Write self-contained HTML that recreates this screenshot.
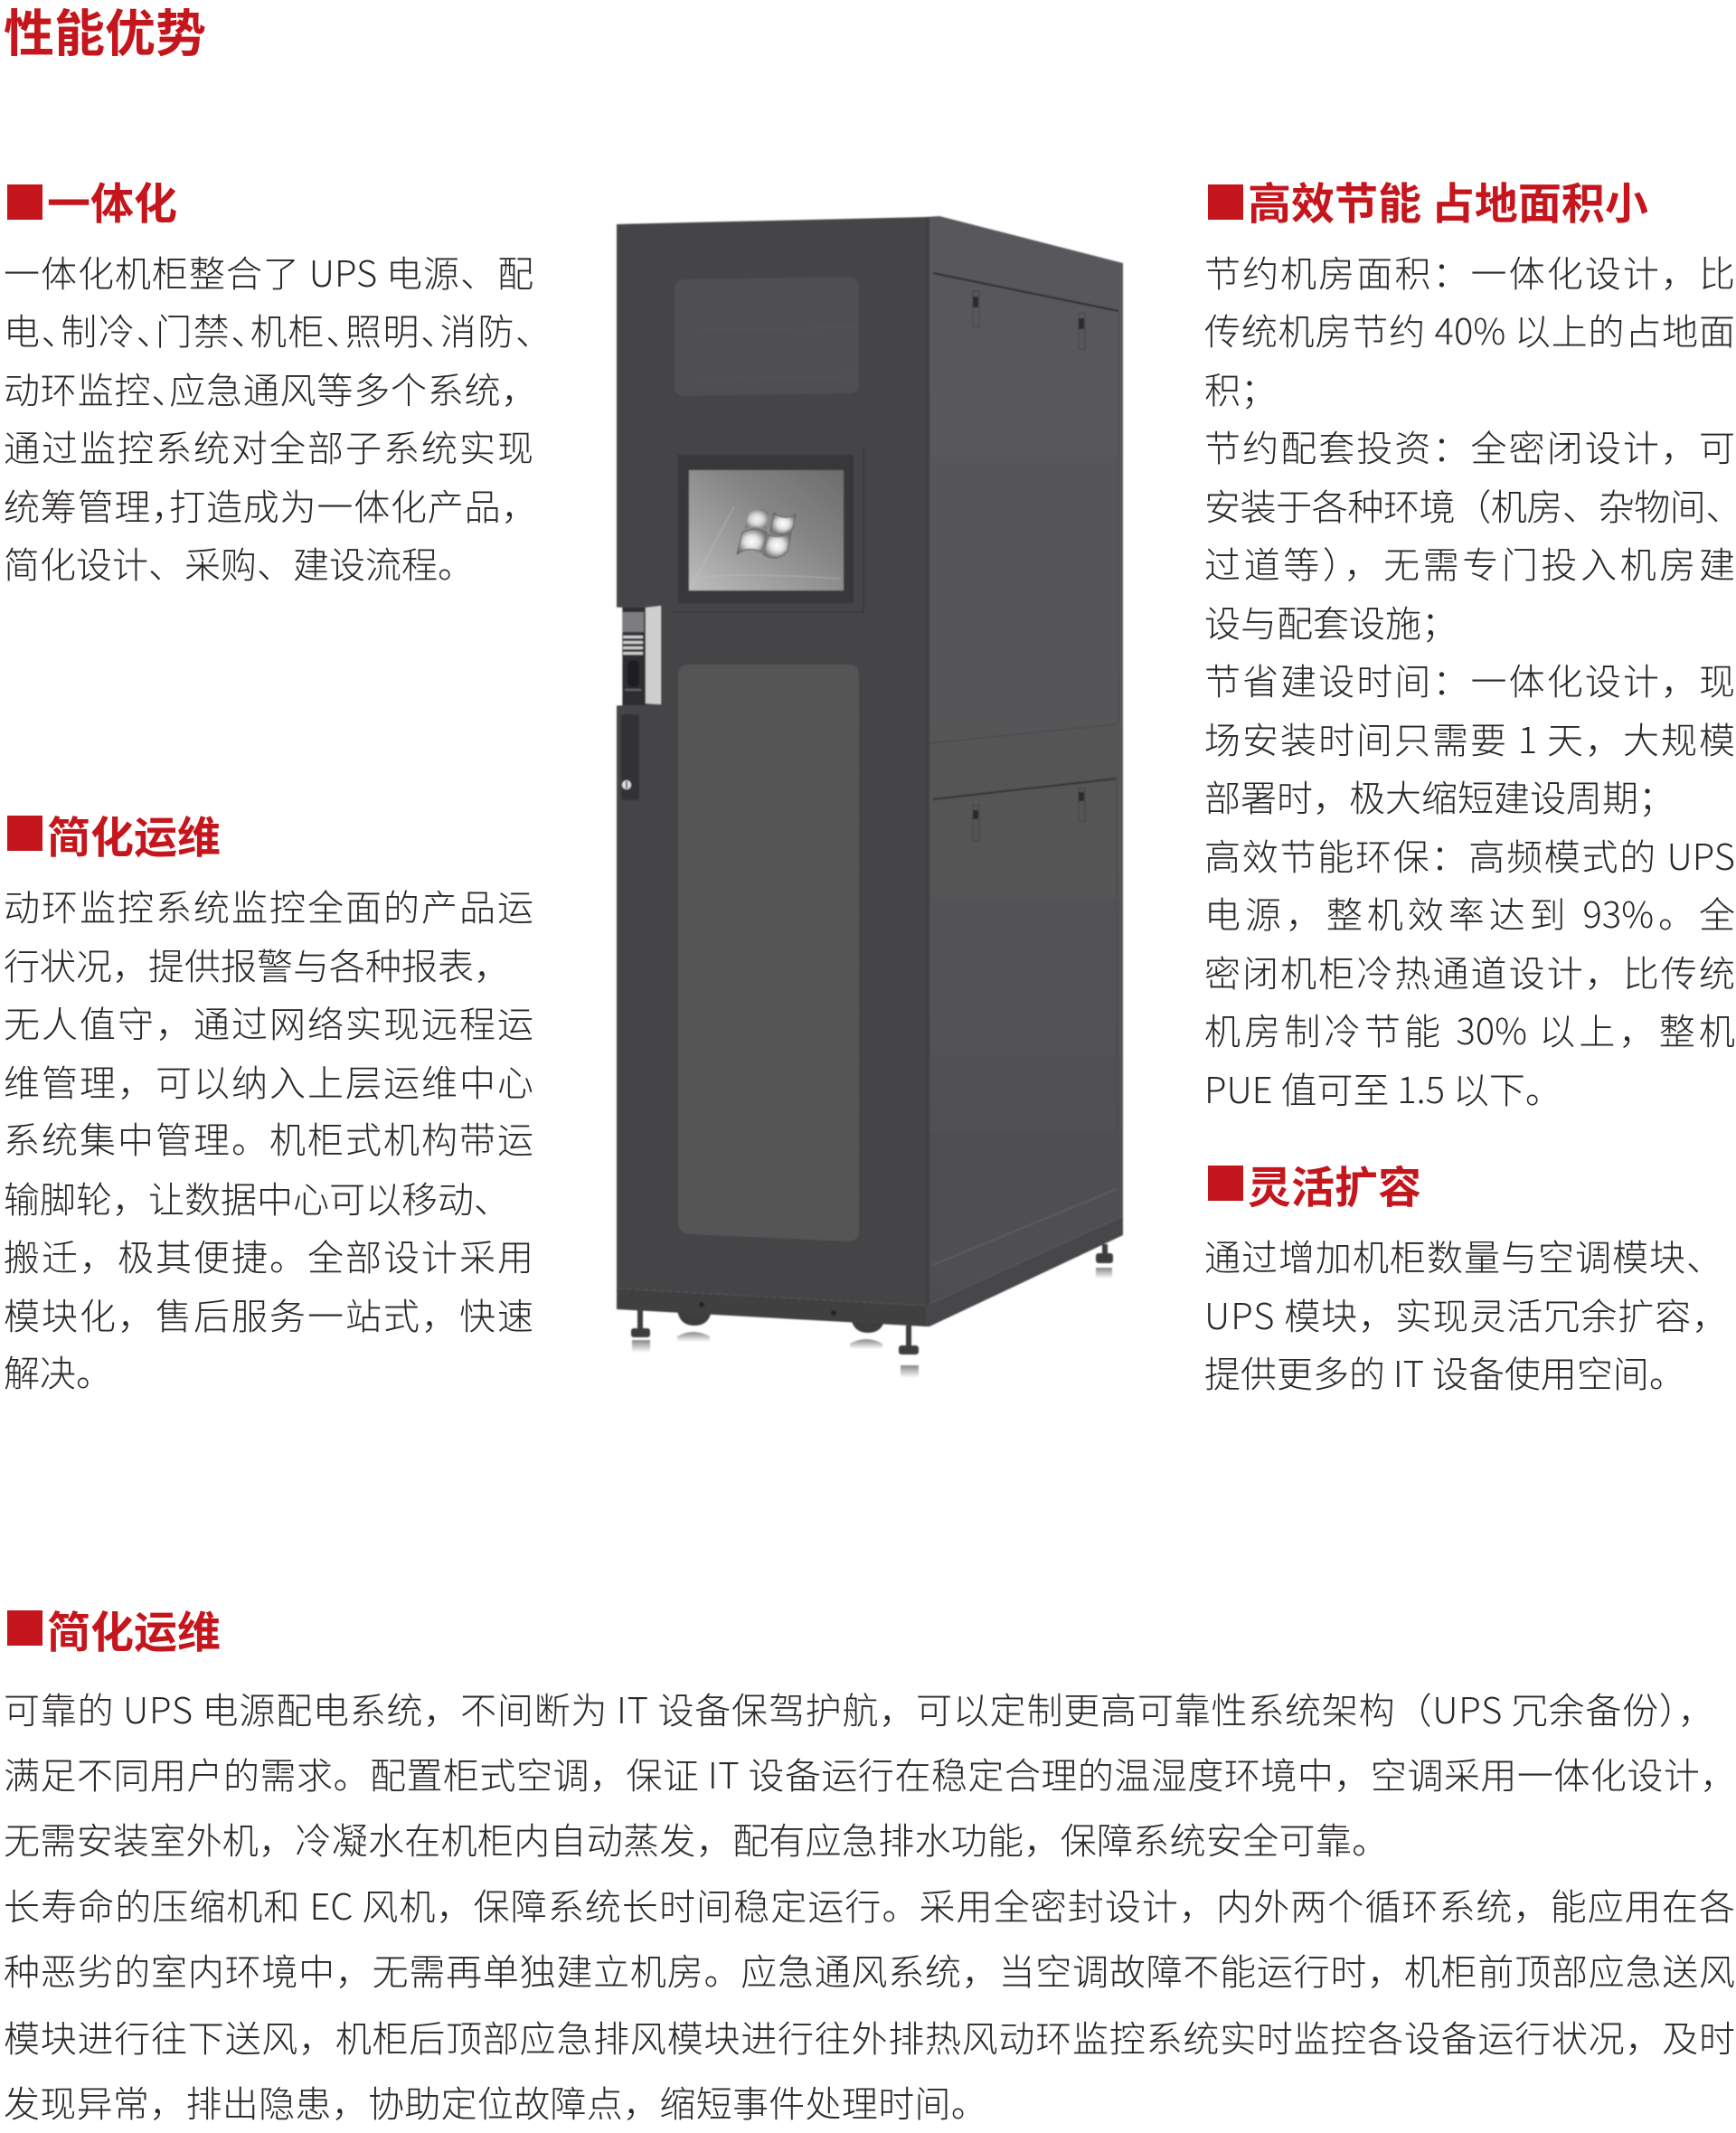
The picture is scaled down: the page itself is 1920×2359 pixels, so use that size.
<!DOCTYPE html>
<html lang="zh"><head><meta charset="utf-8"><title>性能优势</title>
<style>
html,body{margin:0;padding:0;background:#fff}
#p{position:relative;width:1920px;height:2359px;overflow:hidden;background:#fff;font-family:"Noto Sans CJK SC","Liberation Sans",sans-serif;color:#2b2728}
.t{position:absolute;white-space:nowrap;font-size:40px;line-height:60px;height:60px;font-weight:300}
.L{left:4px;width:586px}
.R{left:1332px;width:587px}
.B{left:4px;width:1915px}
.j{text-align:justify;text-align-last:justify}
.h{position:absolute;white-space:nowrap;font-size:48px;line-height:60px;height:60px;font-weight:700;color:#c4161c}
.h b{position:absolute;left:0;top:10px;width:39px;height:39px;background:#c4161c}
.h span{position:absolute;left:44px;top:0}
i{font-style:normal;letter-spacing:-.5em}
svg{position:absolute;left:0;top:0}
</style></head><body><div id="p">
<div class="h" style="left:4px;top:4px;font-size:56px">性能优势</div>

<div class="h" style="left:8px;top:194px"><b></b><span style="top:-3px">一体化</span></div>
<div class="t L j" style="top:270px">一体化机柜整合了 UPS 电源、配</div>
<div class="t L j" style="top:334px">电<i>、</i>制冷<i>、</i>门禁<i>、</i>机柜<i>、</i>照明<i>、</i>消防<i>、</i></div>
<div class="t L" style="top:399px;letter-spacing:.8px">动环监控<i>、</i>应急通风等多个系统&#xFF0C;</div>
<div class="t L j" style="top:463px">通过监控系统对全部子系统实现</div>
<div class="t L" style="top:528px;letter-spacing:.8px">统筹管理<i>&#xFF0C;</i>打造成为一体化产品&#xFF0C;</div>
<div class="t L" style="top:592px">简化设计、采购、建设流程。</div>

<div class="h" style="left:8px;top:892px"><b></b><span>简化运维</span></div>
<div class="t L j" style="top:971px">动环监控系统监控全面的产品运</div>
<div class="t L" style="top:1036px">行状况&#xFF0C;提供报警与各种报表&#xFF0C;</div>
<div class="t L j" style="top:1100px">无人值守&#xFF0C;通过网络实现远程运</div>
<div class="t L j" style="top:1165px">维管理&#xFF0C;可以纳入上层运维中心</div>
<div class="t L j" style="top:1228px">系统集中管理。机柜式机构带运</div>
<div class="t L" style="top:1294px">输脚轮&#xFF0C;让数据中心可以移动、</div>
<div class="t L j" style="top:1358px">搬迁&#xFF0C;极其便捷。全部设计采用</div>
<div class="t L j" style="top:1423px">模块化&#xFF0C;售后服务一站式&#xFF0C;快速</div>
<div class="t L" style="top:1486px">解决。</div>

<div class="h" style="left:1336px;top:194px"><b></b><span style="top:-3px">高效节能 占地面积小</span></div>
<div class="t R j" style="top:270px">节约机房面积&#xFF1A;一体化设计&#xFF0C;比</div>
<div class="t R j" style="top:334px">传统机房节约 40% 以上的占地面</div>
<div class="t R" style="top:399px">积&#xFF1B;</div>
<div class="t R j" style="top:463px">节约配套投资&#xFF1A;全密闭设计&#xFF0C;可</div>
<div class="t R" style="top:528px;letter-spacing:-.4px">安装于各种环境&#xFF08;机房、杂物间<i>、</i></div>
<div class="t R j" style="top:592px">过道等&#xFF09;&#xFF0C;无需专门投入机房建</div>
<div class="t R" style="top:657px">设与配套设施&#xFF1B;</div>
<div class="t R j" style="top:721px">节省建设时间&#xFF1A;一体化设计&#xFF0C;现</div>
<div class="t R j" style="top:786px">场安装时间只需要 1 天&#xFF0C;大规模</div>
<div class="t R" style="top:850px">部署时&#xFF0C;极大缩短建设周期&#xFF1B;</div>
<div class="t R j" style="top:915px">高效节能环保&#xFF1A;高频模式的 UPS</div>
<div class="t R j" style="top:979px">电源&#xFF0C;整机效率达到 93%。全</div>
<div class="t R j" style="top:1044px">密闭机柜冷热通道设计&#xFF0C;比传统</div>
<div class="t R j" style="top:1108px">机房制冷节能 30% 以上&#xFF0C;整机</div>
<div class="t R" style="top:1173px">PUE 值可至 1.5 以下。</div>

<div class="h" style="left:1336px;top:1279px"><b></b><span>灵活扩容</span></div>
<div class="t R" style="top:1358px;letter-spacing:1px">通过增加机柜数量与空调模块、</div>
<div class="t R" style="top:1423px;letter-spacing:1px">UPS 模块&#xFF0C;实现灵活冗余扩容&#xFF0C;</div>
<div class="t R" style="top:1487px">提供更多的 IT 设备使用空间。</div>

<div class="h" style="left:8px;top:1771px"><b></b><span>简化运维</span></div>
<div class="t B" style="top:1859px;letter-spacing:.8px">可靠的 UPS 电源配电系统&#xFF0C;不间断为 IT 设备保驾护航&#xFF0C;可以定制更高可靠性系统架构&#xFF08;UPS 冗余备份&#xFF09;&#xFF0C;</div>
<div class="t B" style="top:1931px;letter-spacing:.5px">满足不同用户的需求。配置柜式空调&#xFF0C;保证 IT 设备运行在稳定合理的温湿度环境中&#xFF0C;空调采用一体化设计&#xFF0C;</div>
<div class="t B" style="top:2003px;letter-spacing:.3px">无需安装室外机&#xFF0C;冷凝水在机柜内自动蒸发&#xFF0C;配有应急排水功能&#xFF0C;保障系统安全可靠。</div>
<div class="t B j" style="top:2076px">长寿命的压缩机和 EC 风机&#xFF0C;保障系统长时间稳定运行。采用全密封设计&#xFF0C;内外两个循环系统&#xFF0C;能应用在各</div>
<div class="t B j" style="top:2148px">种恶劣的室内环境中&#xFF0C;无需再单独建立机房。应急通风系统&#xFF0C;当空调故障不能运行时&#xFF0C;机柜前顶部应急送风</div>
<div class="t B j" style="top:2222px">模块进行往下送风&#xFF0C;机柜后顶部应急排风模块进行往外排热风动环监控系统实时监控各设备运行状况&#xFF0C;及时</div>
<div class="t B" style="top:2294px;letter-spacing:.3px">发现异常&#xFF0C;排出隐患&#xFF0C;协助定位故障点&#xFF0C;缩短事件处理时间。</div>

<svg width="1920" height="2359" viewBox="0 0 1920 2359" xmlns="http://www.w3.org/2000/svg">
<defs>
<linearGradient id="scr" x1="0" y1="1" x2="1" y2="0"><stop offset="0" stop-color="#bdbdbd"/><stop offset=".3" stop-color="#a0a0a0"/><stop offset=".6" stop-color="#858585"/><stop offset="1" stop-color="#6c6c6c"/></linearGradient>
<radialGradient id="glow"><stop offset="0" stop-color="#fff"/><stop offset=".5" stop-color="#e0e0e0"/><stop offset="1" stop-color="#7a7a7a"/></radialGradient>
<linearGradient id="ref" x1="0" y1="0" x2="0" y2="1"><stop offset="0" stop-color="#888"/><stop offset="1" stop-color="#fff"/></linearGradient>
<linearGradient id="side" x1="0" y1="0" x2="0" y2="1"><stop offset="0" stop-color="#59595b"/><stop offset=".5" stop-color="#555557"/><stop offset="1" stop-color="#4e4e50"/></linearGradient>
<filter id="soft"><feGaussianBlur stdDeviation=".8"/></filter>
</defs>
<g filter="url(#soft)">
<g fill="url(#ref)">
<rect x="699" y="1482" width="20" height="14"/><rect x="996" y="1510" width="20" height="14"/>
<rect x="1212" y="1402" width="18" height="12"/>
<path d="M749 1478q18-10 36 0v6h-36z"/><path d="M940 1486q18-10 36 0v6h-36z"/>
</g>
<g fill="#3c3c3e">
<rect x="705" y="1446" width="6" height="26"/><rect x="698" y="1469" width="21" height="10" rx="3"/>
<rect x="1002" y="1466" width="6" height="26"/><rect x="994" y="1488" width="22" height="10" rx="3"/>
<rect x="1219" y="1376" width="6" height="14"/><rect x="1212" y="1386" width="19" height="11" rx="3"/>
<path d="M749 1448h38q-2 18-19 18t-19-18z"/><path d="M941 1456h38q-2 18-19 18t-19-18z"/>
</g>
<path d="M682 1425L1024 1444L1024 1467L682 1448z" fill="#3f3f41"/>
<path d="M1024 1444L1242 1345L1242 1366L1028 1467L1024 1467z" fill="#474749"/>
<circle cx="776" cy="1443" r="3" fill="#222"/><circle cx="922" cy="1452" r="3" fill="#222"/>
<path d="M1024 240L1039 239L1242 291L1242 1345L1024 1444z" fill="url(#side)"/>
<path d="M1024 240L1028 240L1028 1444L1024 1444z" fill="#404042"/>
<path d="M1032 1399L1235 1315" stroke="#5e5e60" stroke-width="1.5" fill="none"/>
<path d="M1032 302L1237 344" stroke="#2c2c2e" stroke-width="2" fill="none"/>
<path d="M1028 822L1235 801" stroke="#474749" stroke-width="1" fill="none"/>
<path d="M1032 884L1235 861" stroke="#333335" stroke-width="2" fill="none"/>
<path d="M1237 344V801M1235 861V1315" stroke="#49494b" stroke-width="1" fill="none"/>
<g fill="none" stroke="#444446" stroke-width="1"><rect x="1076" y="322" width="7" height="40"/><rect x="1193" y="346" width="7" height="40"/><rect x="1076" y="890" width="7" height="40"/><rect x="1193" y="872" width="7" height="36"/></g>
<g fill="#2c2c2e"><rect x="1076" y="328" width="6" height="12"/><rect x="1193" y="352" width="6" height="12"/><rect x="1076" y="896" width="6" height="10"/><rect x="1193" y="876" width="6" height="10"/></g>
<path d="M682 248L1024 240L1024 1444L682 1425z" fill="#444446"/>
<path d="M758 309L938 306Q950 306 950 318V425Q950 435 938 435L758 438Q746 438 746 427V320Q746 309 758 309z" fill="#4f4f51"/>
<path d="M770 365L950 362M770 419L950 416" stroke="#555557" stroke-width="1" fill="none"/>
<path d="M955 494V677H742" stroke="#3a3a3c" stroke-width="1.500" fill="none"/>
<rect x="750" y="503" width="194" height="164" fill="#39393b"/>
<rect x="762" y="520" width="171" height="133" fill="url(#scr)"/>
<path d="M764 650L812 560M764 640Q810 632 930 640" stroke="#c8c8c8" stroke-width="1" fill="none" opacity=".5"/>
<g transform="translate(847 593)">
<path d="M-32 20Q-18 10 -5 18L1 -4Q-14 -12 -26 -4z" fill="url(#glow)" stroke="#555"/>
<path d="M-3 20Q12 30 24 16L28 -4Q14 4 3 -2z" fill="url(#glow)" stroke="#555"/>
<path d="M-24 -8Q-12 -14 0 -7L4 -27Q-10 -34 -18 -26z" fill="url(#glow)" opacity=".9"/>
<path d="M5 -5Q18 3 30 -9L33 -24Q20 -16 9 -26z" fill="url(#glow)" stroke="#555"/>
</g>
<path d="M762 735L938 735Q950 735 950 747V1361Q950 1373 938 1373L762 1365Q750 1364 750 1352V747Q750 735 762 735z" fill="#555557"/>
<path d="M750 793L950 796M750 852L950 854M750 905L950 908M750 957L950 960M750 1010L950 1013M750 1062L950 1065M750 1114L950 1117M750 1166L950 1169M750 1218L950 1221M750 1270L950 1273M750 1322L950 1325" stroke="#59595b" stroke-width="1" fill="none"/>
<path d="M682 672L688 672V780L682 780z" fill="#fff"/>
<rect x="688" y="672" width="26" height="108" fill="#2e2e30"/>
<rect x="688" y="677" width="24" height="22" fill="#7d7d7f"/>
<g fill="#cfcfcf"><rect x="689" y="703" width="22" height="3"/><rect x="689" y="709" width="22" height="3"/><rect x="689" y="715" width="22" height="3"/><rect x="689" y="721" width="22" height="3"/></g>
<rect x="694" y="730" width="13" height="30" rx="6" fill="#1e1e20"/>
<rect x="691" y="762" width="18" height="2" fill="#666"/>
<path d="M714 672L731 670V779L714 778z" fill="#cfcfcf"/>
<rect x="687" y="790" width="20" height="95" rx="3" fill="#323234"/>
<circle cx="693" cy="868" r="5" fill="#e2e2e2"/><rect x="692" y="864" width="2" height="8" fill="#555"/>
</g>
</svg>
</div></body></html>
